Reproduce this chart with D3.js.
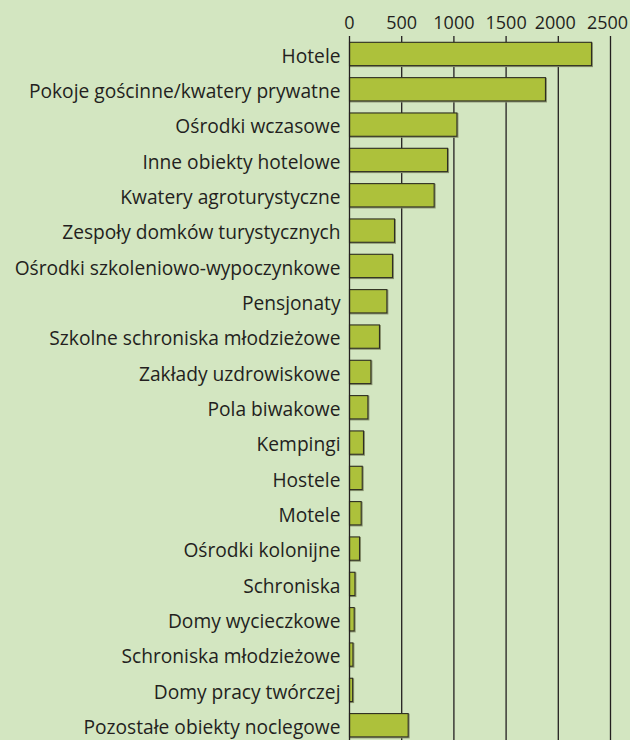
<!DOCTYPE html>
<html><head><meta charset="utf-8">
<script src="https://cdn.jsdelivr.net/npm/d3@7"></script>
<style>
html,body{margin:0;padding:0;background:#d3e6c1;}
svg{display:block;}
</style></head>
<body>
<svg id="chart" width="630" height="740"></svg>
<script>
const categories = ["Hotele","Pokoje gościnne/kwatery prywatne","Ośrodki wczasowe","Inne obiekty hotelowe","Kwatery agroturystyczne","Zespoły domków turystycznych","Ośrodki szkoleniowo-wypoczynkowe","Pensjonaty","Szkolne schroniska młodzieżowe","Zakłady uzdrowiskowe","Pola biwakowe","Kempingi","Hostele","Motele","Ośrodki kolonijne","Schroniska","Domy wycieczkowe","Schroniska młodzieżowe","Domy pracy twórczej","Pozostałe obiekty noclegowe"];
const values = [2318,1877,1029,939,811,431,412,358,287,205,176,134,122,112,96,52,45,33,30,562];
const tickValues = [0,500,1000,1500,2000,2500];

const svg = d3.select("#chart");
const W = 630, H = 740;
svg.append("rect").attr("width",W).attr("height",H).attr("fill","#d3e6c1");

const x = d3.scaleLinear().domain([0,2500]).range([349.5,610.5]);
const y = d3.scaleBand().domain(categories).range([36.3,742.9]).paddingInner(0.34).paddingOuter(0.17);

const font = "'Open Sans', 'Noto Sans', sans-serif";

// gridlines
svg.append("g").selectAll("line").data(tickValues.slice(1)).join("line")
  .attr("x1",d=>x(d)).attr("x2",d=>x(d)).attr("y1",36).attr("y2",H)
  .attr("stroke","#231f20").attr("stroke-width",1.3);

// bars shadow
const bars = svg.append("g");
bars.selectAll("rect.sh").data(values).join("rect").attr("class","sh")
  .attr("x",x(0)+0.8).attr("y",(d,i)=>y(categories[i])+0.8)
  .attr("width",d=>x(d)-x(0)).attr("height",y.bandwidth())
  .attr("fill","none").attr("stroke","#8a9470").attr("stroke-width",1.4);
bars.selectAll("rect.b").data(values).join("rect").attr("class","b")
  .attr("x",x(0)).attr("y",(d,i)=>y(categories[i]))
  .attr("width",d=>x(d)-x(0)).attr("height",y.bandwidth())
  .attr("fill","#adc13b").attr("stroke","#2e2e22").attr("stroke-width",1.1);

// zero axis line
svg.append("line").attr("x1",x(0)).attr("x2",x(0)).attr("y1",36).attr("y2",H)
  .attr("stroke","#231f20").attr("stroke-width",1.3);

// top tick labels
svg.append("g").selectAll("text").data(tickValues).join("text")
  .attr("x",(d,i)=>x(d) - (i>=4 ? 3 : 0)).attr("y",29).attr("text-anchor","middle")
  .attr("font-family",font).attr("font-size",18).attr("fill","#231f20")
  .text(d=>d);

// category labels
svg.append("g").selectAll("text").data(categories).join("text")
  .attr("x",340.5).attr("y",d=>y(d)+y.bandwidth()/2+8.8)
  .attr("text-anchor","end").attr("font-family",font).attr("font-size",19.2)
  .attr("fill","#231f20").text(d=>d);
</script>
</body></html>
